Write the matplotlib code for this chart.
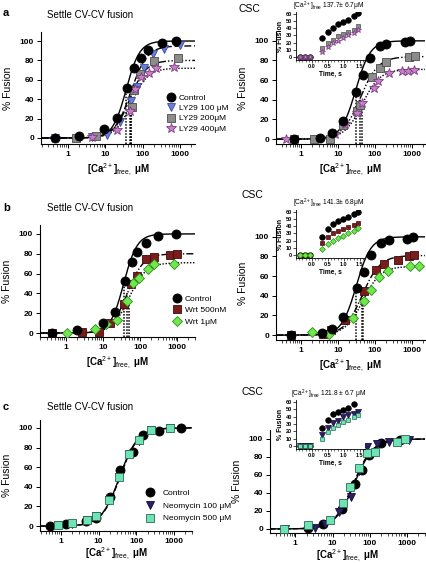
import numpy as np
import matplotlib
matplotlib.use('Agg')
import matplotlib.pyplot as plt
from matplotlib.ticker import LogLocator, FixedLocator, FuncFormatter, NullFormatter, MultipleLocator

plt.rcParams['font.family'] = ['Liberation Sans', 'DejaVu Sans']
plt.rcParams['mathtext.fontset'] = 'custom'
plt.rcParams['mathtext.rm'] = 'Liberation Sans'
plt.rcParams['mathtext.it'] = 'Liberation Sans:italic'
plt.rcParams['mathtext.bf'] = 'Liberation Sans:bold'

W, H = 427, 563

# ---------------- data ----------------
# panel a, settle CV-CV fusion, LY29
a1_ctrl_x = [0.45, 2, 9.4, 20, 39, 60, 90, 140, 320, 800]
a1_ctrl_y = [0, 2, 9, 21, 52, 72, 82, 91, 98, 100]
a1_ly100_x = [0.45, 4.3, 11, 24, 48, 69, 105, 187, 360, 1000]
a1_ly100_y = [0, 1, 3, 17, 38, 53, 72, 87, 92, 96]
a1_ly200_x = [1.6, 5.7, 52, 60, 85, 200, 900]
a1_ly200_y = [0, 2, 32, 50, 66, 79, 82]
a1_ly400_x = [0.45, 4.5, 20, 45, 62, 90, 150, 220, 700]
a1_ly400_y = [0, 1, 8, 28, 51, 63, 67, 72, 73]

# panel a, CSC
a2_ctrl_x = [0.65, 3.3, 6.7, 13.4, 30, 46, 75, 134, 202, 645, 880]
a2_ctrl_y = [0, 1, 6, 18, 48, 65, 83, 95, 97, 99, 100]
a2_ly200_x = [0.65, 2.2, 6, 14, 32, 40, 85, 140, 195, 830, 1200]
a2_ly200_y = [0, 0, 0, 14, 29, 35, 63, 72, 78, 84, 85]
a2_ly400_x = [0.39, 8.3, 15.5, 33, 44, 96, 123, 245, 550, 760, 1150]
a2_ly400_y = [0, 5, 15, 27, 37, 52, 59, 67, 69, 69, 70]

# panel b, settle CV-CV fusion, wortmannin
b1_ctrl_x = [0.42, 2, 9.8, 21.5, 40, 61, 83, 145, 307, 900]
b1_ctrl_y = [0, 3, 10, 21, 52, 72, 82, 91, 98, 100]
b1_w500_x = [0.42, 2.7, 7.6, 15, 36, 57, 83, 148, 240, 650, 1000]
b1_w500_y = [0, 1, 1, 10, 29, 49, 58, 75, 77, 79, 80]
b1_w1_x = [1.06, 6.1, 12, 24, 45, 65, 94, 158, 235, 810]
b1_w1_y = [0, 4, 9, 13, 32, 50, 56, 65, 70, 70]

# panel b, CSC
b2_ctrl_x = [0.55, 3.6, 6.9, 13.8, 32, 50, 76, 145, 240, 730, 1050]
b2_ctrl_y = [0, 2, 6, 18, 48, 64, 82, 94, 97, 98, 100]
b2_w500_x = [0.55, 3.8, 6.5, 15, 50, 105, 170, 430, 830, 1150]
b2_w500_y = [0, 1, 5, 15, 45, 66, 72, 76, 80, 81]
b2_w1_x = [2, 5.8, 25, 50, 77, 126, 224, 910, 1550]
b2_w1_y = [3, 1, 17, 35, 46, 59, 65, 70, 70]

# panel c, settle CV-CV fusion, neomycin
c1_ctrl_x = [0.53, 1.4, 4.6, 8.7, 20, 38, 81, 155, 390, 1500]
c1_ctrl_y = [0, 2, 5, 8, 30, 57, 75, 93, 97, 100]
c1_n100_x = [0.82, 2.0, 4.9, 8.7, 19, 35, 64, 121, 246, 780]
c1_n100_y = [1, 2, 6, 10, 27, 50, 73, 87, 98, 100]
c1_n500_x = [0.82, 2.0, 4.9, 8.7, 19, 35, 64, 121, 246, 780]
c1_n500_y = [1, 3, 6, 10, 27, 50, 73, 88, 98, 100]

# panel c, CSC
c2_ctrl_x = [2.2, 5.4, 18, 39, 62, 97, 204, 660]
c2_ctrl_y = [1, 6, 22, 50, 66, 82, 96, 99]
c2_n100_x = [0.54, 3.3, 6.4, 14.5, 31, 50, 86, 156, 320, 1100]
c2_n100_y = [0, 1, 6, 19, 36, 64, 91, 94, 97, 99]
c2_n500_x = [0.49, 2.2, 8.7, 19, 30, 52, 84, 141, 537, 900]
c2_n500_y = [0, 4, 10, 29, 47, 68, 84, 85, 97, 100]

# Hill fit parameters (max, EC50, slope)
a1_fits = {'ctrl': (100, 36, 2.4), 'ly100': (95, 48, 2.0), 'ly200': (80, 45, 2.0), 'ly400': (72, 50, 2.0)}
a2_fits = {'ctrl': (100, 30, 2.2), 'ly200': (84, 40, 1.8), 'ly400': (71, 45, 1.8)}
b1_fits = {'ctrl': (100, 36, 2.4), 'w500': (80, 45, 2.0), 'w1': (71, 50, 1.9)}
b2_fits = {'ctrl': (100, 31, 2.2), 'w500': (81, 45, 1.8), 'w1': (70, 47, 1.8)}
c1_fits = {'ctrl': (100, 36, 1.8), 'n500': (100, 37, 1.8)}
c2_fits = {'ctrl': (100, 38, 1.7), 'n500': (100, 36, 1.7)}

# insets: time course at the given free Ca2+
t_pts = [-0.37, -0.22, -0.06, 0.31, 0.5, 0.66, 0.81, 0.97, 1.13, 1.31, 1.44]
ia_ctrl = [0, 0, 0, 27, 35, 41, 46, 49, 52, 57, 62]
ia_ly200 = [0, 0, 0, 12, 19, 24, 29, 32, 35, 38, 43]
ia_ly400 = [0, 0, 0, 7, 14, 19, 23, 26, 30, 34, 37]
ib_ctrl = [0, 0, 0, 25, 36, 43, 47, 50, 53, 57, 60]
ib_w500 = [0, 0, 0, 17, 25, 30, 33, 36, 39, 42, 44]
ib_w1 = [0, 0, 0, 8, 16, 20, 24, 27, 31, 34, 38]
t_pts_c = [-0.37, -0.22, -0.06, 0.31, 0.5, 0.66, 0.81, 0.97, 1.13, 1.31]
ic_ctrl = [0, 0, 0, 24, 35, 43, 46, 49, 52, 57]
ic_n100 = [0, 0, 0, 15, 24, 31, 34, 39, 42, 44, 46]
ic_n500 = [0, 0, 0, 9, 19, 25, 29, 33, 36, 39, 42]
inset_titles = ['137.7\u00b1 6.7\u03bcM', '141.3\u00b1 6.8\u03bcM', '121.8 \u00b1 6.7 \u03bcM']

# ---------------- styles ----------------
ST = {
    'ctrl': dict(marker='o', mfc='black', mec='black', ms=6.5, lab='Control'),
    'ly100': dict(marker='v', mfc='#6a7fdc', mec='#3b4a9a', ms=6, lab='LY29 100 \u03bcM'),
    'ly200': dict(marker='s', mfc='#8c8c8c', mec='#4a4a4a', ms=5.5, lab='LY29 200\u03bcM'),
    'ly400': dict(marker='*', mfc='#c77fc9', mec='#7b3d80', ms=7, lab='LY29 400\u03bcM'),
    'w500': dict(marker='s', mfc='#7a1c1c', mec='#3f0a0a', ms=5.5, lab='Wrt 500nM'),
    'w1': dict(marker='D', mfc='#6ee84a', mec='#2f8a1e', ms=4.8, lab='Wrt 1\u03bcM'),
    'n100': dict(marker='v', mfc='#2b1f66', mec='#140c3a', ms=6, lab='Neomycin 100 \u03bcM'),
    'n500': dict(marker='s', mfc='#6fe3b4', mec='#2a6b55', ms=5.5, lab='Neomycin 500 \u03bcM'),
}
FIT_LS = {'ctrl': '-', 'ly100': (0, (5, 2)), 'ly200': (0, (6, 1.5, 1, 1.5, 1, 1.5)),
          'ly400': (0, (1, 1.2)), 'w500': (0, (5, 1.5, 1, 1.5)), 'w1': (0, (1, 1.2)),
          'n500': (0, (4, 1.5))}

XLABEL = '[Ca$^{2+}$]$_{\\mathrm{free,}}$ \u03bcM'

fig = plt.figure(figsize=(W / 100, H / 100), dpi=100)


def px_axes(l, t, r, b):
    return fig.add_axes([l / W, 1 - b / H, (r - l) / W, (b - t) / H])


def hill(x, vmax, ec50, n):
    return vmax * x ** n / (x ** n + ec50 ** n)


def style_main(ax, xlim, ylim, xlabelpad=2.5):
    ax.set_xscale('log')
    ax.set_xlim(*xlim)
    ax.set_ylim(*ylim)
    for s in ['top', 'right']:
        ax.spines[s].set_visible(False)
    for s in ['left', 'bottom']:
        ax.spines[s].set_linewidth(0.8)
    ax.xaxis.set_major_locator(FixedLocator([1, 10, 100, 1000]))
    ax.xaxis.set_major_formatter(FuncFormatter(lambda v, p: '%g' % v))
    ax.xaxis.set_minor_locator(LogLocator(base=10, subs=np.arange(2, 10)))
    ax.xaxis.set_minor_formatter(NullFormatter())
    ax.set_yticks([0, 20, 40, 60, 80, 100])
    ax.tick_params(which='major', length=3, width=0.7, labelsize=6, pad=2)
    ax.tick_params(which='minor', length=1.8, width=0.5)
    for lb in ax.get_xticklabels() + ax.get_yticklabels():
        lb.set_fontweight('bold')
    ax.set_xlabel(XLABEL, fontsize=7, fontweight='bold', labelpad=xlabelpad)
    ax.set_ylabel('% Fusion', fontsize=7.5, labelpad=5)


def draw_series(ax, key, x, y, zorder=3):
    s = ST[key]
    ax.plot(x, y, linestyle='none', marker=s['marker'], markerfacecolor=s['mfc'],
            markeredgecolor=s['mec'], markersize=s['ms'], markeredgewidth=0.6,
            label=s['lab'], zorder=zorder)


def draw_fits(ax, fits, xlim, vlines=True):
    xs = np.logspace(np.log10(xlim[0]), np.log10(xlim[1]), 300)
    for key, (vmax, ec50, n) in fits.items():
        ax.plot(xs, hill(xs, vmax, ec50, n), color='black', lw=1.0,
                linestyle=FIT_LS[key], zorder=2)
        if vlines:
            ax.vlines(ec50, ax.get_ylim()[0], vmax / 2, colors='black',
                      linestyles=(0, (1, 1)), lw=1.1, zorder=2)


def add_legend(ax, keys, x, y, pad=0.4, spacing=0.3):
    handles, labels = ax.get_legend_handles_labels()
    order = [labels.index(ST[k]['lab']) for k in keys]
    ax.legend([handles[i] for i in order], [labels[i] for i in order],
              loc='upper left', bbox_to_anchor=(x / W, 1 - y / H),
              bbox_transform=fig.transFigure, frameon=False, fontsize=6,
              handlelength=1.0, handletextpad=pad, labelspacing=spacing,
              borderpad=0, borderaxespad=0)


def make_inset(t, b, t_series, title, ty):
    ax = px_axes(296, t, 365, b)
    ax.set_facecolor('white')
    for key, tp, vals in t_series:
        s = ST[key]
        ax.plot(tp, vals, linestyle='none', marker=s['marker'], markerfacecolor=s['mfc'],
                markeredgecolor=s['mec'], markersize=s['ms'] * 0.62, markeredgewidth=0.5)
    ax.set_xlim(-0.5, 1.66)
    ax.set_ylim(-4.2, 62.8)
    for s in ['top', 'right']:
        ax.spines[s].set_visible(False)
    for s in ['left', 'bottom']:
        ax.spines[s].set_linewidth(0.6)
    ax.set_yticks([0, 10, 20, 30, 40, 50, 60])
    ax.set_xticks([0.0, 0.5, 1.0, 1.5])
    ax.xaxis.set_major_formatter(FuncFormatter(lambda v, p: '%.1f' % v))
    ax.xaxis.set_minor_locator(MultipleLocator(0.1))
    ax.tick_params(which='major', length=2, width=0.5, labelsize=4, pad=1)
    ax.tick_params(which='minor', length=1.2, width=0.4)
    for lb in ax.get_xticklabels() + ax.get_yticklabels():
        lb.set_fontweight('bold')
    ax.set_xlabel('Time, s', fontsize=4.8, fontweight='bold', labelpad=1)
    ax.set_ylabel('% Fusion', fontsize=5, fontweight='bold', labelpad=1)
    fig.text(329 / W, 1 - ty / H, '[Ca$^{2+}$]$_{\\mathrm{free}}$ ' + title,
             fontsize=4.8, ha='center', va='center')
    return ax


# ---------------- panel a ----------------
ax = px_axes(41, 32, 195, 144)
lim = (0.19, 2500)
style_main(ax, lim, (-6.2, 109.3))
draw_fits(ax, a1_fits, lim)
draw_series(ax, 'ctrl', a1_ctrl_x, a1_ctrl_y, 4)
draw_series(ax, 'ly100', a1_ly100_x, a1_ly100_y)
draw_series(ax, 'ly200', a1_ly200_x, a1_ly200_y)
draw_series(ax, 'ly400', a1_ly400_x, a1_ly400_y)
add_legend(ax, ['ctrl', 'ly100', 'ly200', 'ly400'], 167, 94)

ax = px_axes(276, 32, 425, 144)
lim = (0.21, 2245)
style_main(ax, lim, (-5, 109))
draw_fits(ax, a2_fits, lim)
draw_series(ax, 'ctrl', a2_ctrl_x, a2_ctrl_y, 4)
draw_series(ax, 'ly200', a2_ly200_x, a2_ly200_y)
draw_series(ax, 'ly400', a2_ly400_x, a2_ly400_y)
make_inset(12, 60,
           [('ctrl', t_pts, ia_ctrl), ('ly200', t_pts, ia_ly200), ('ly400', t_pts, ia_ly400)],
           inset_titles[0], 6.5)

# ---------------- panel b ----------------
ax = px_axes(40, 225, 195, 337)
lim = (0.2, 3000)
style_main(ax, lim, (-4, 109))
draw_fits(ax, b1_fits, lim)
draw_series(ax, 'ctrl', b1_ctrl_x, b1_ctrl_y, 4)
draw_series(ax, 'w500', b1_w500_x, b1_w500_y)
draw_series(ax, 'w1', b1_w1_x, b1_w1_y)
add_legend(ax, ['ctrl', 'w500', 'w1'], 173, 295, spacing=0.45)

ax = px_axes(276, 227, 425, 340)
lim = (0.21, 2245)
style_main(ax, lim, (-5, 110))
draw_fits(ax, b2_fits, lim)
draw_series(ax, 'ctrl', b2_ctrl_x, b2_ctrl_y, 4)
draw_series(ax, 'w500', b2_w500_x, b2_w500_y)
draw_series(ax, 'w1', b2_w1_x, b2_w1_y)
make_inset(210, 258,
           [('ctrl', t_pts, ib_ctrl), ('w500', t_pts, ib_w500), ('w1', t_pts, ib_w1)],
           inset_titles[1], 203)

# ---------------- panel c ----------------
ax = px_axes(40, 420, 192, 531)
lim = (0.28, 3000)
style_main(ax, lim, (-5, 108), xlabelpad=1)
draw_fits(ax, c1_fits, lim, vlines=False)
draw_series(ax, 'ctrl', c1_ctrl_x, c1_ctrl_y)
draw_series(ax, 'n100', c1_n100_x, c1_n100_y)
draw_series(ax, 'n500', c1_n500_x, c1_n500_y)
add_legend(ax, ['ctrl', 'n100', 'n500'], 146, 489, pad=1.0, spacing=0.6)

ax = px_axes(270, 430, 425, 533)
lim = (0.21, 3000)
style_main(ax, lim, (-4.5, 110), xlabelpad=1)
draw_fits(ax, c2_fits, lim, vlines=False)
draw_series(ax, 'ctrl', c2_ctrl_x, c2_ctrl_y)
draw_series(ax, 'n100', c2_n100_x, c2_n100_y)
draw_series(ax, 'n500', c2_n500_x, c2_n500_y)
make_inset(400, 449,
           [('ctrl', t_pts_c, ic_ctrl), ('n100', t_pts, ic_n100), ('n500', t_pts, ic_n500)],
           inset_titles[2], 394)

# ---------------- panel labels / titles ----------------
for lab, y in [('a', 13), ('b', 208), ('c', 407)]:
    fig.text(3 / W, 1 - y / H, lab, fontsize=8, fontweight='bold', va='center')
for y in [15, 208, 407]:
    fig.text(90 / W, 1 - y / H, 'Settle CV-CV fusion', fontsize=7, ha='center', va='center')
for x, y in [(249, 9), (252, 195), (252, 392)]:
    fig.text(x / W, 1 - y / H, 'CSC', fontsize=7.5, ha='center', va='center')

fig.savefig('out.png', dpi=100)
